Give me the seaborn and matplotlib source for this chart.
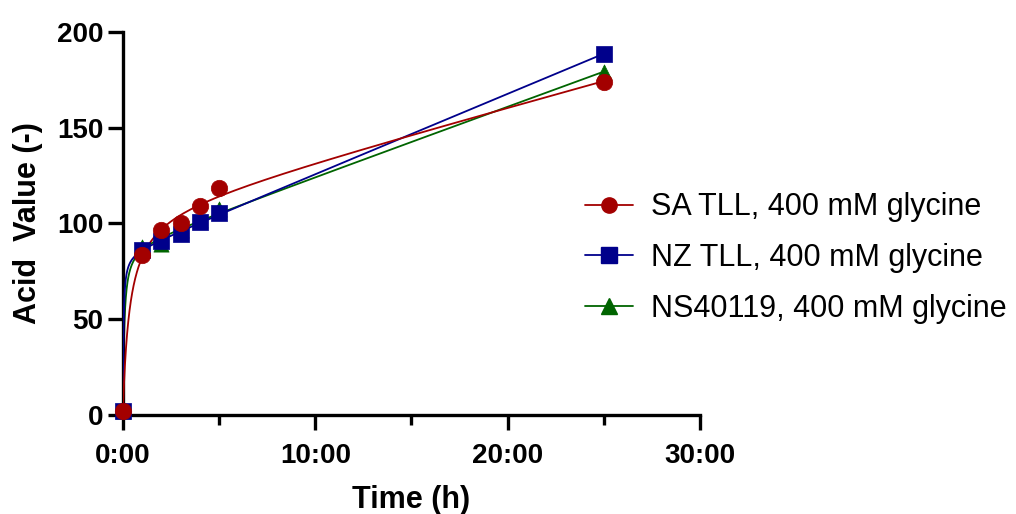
import numpy as np
import pandas as pd
import matplotlib
matplotlib.use("Agg")
import matplotlib.pyplot as plt
import seaborn as sns
from matplotlib.lines import Line2D

# ---- data ----
time_h = [0, 1, 2, 3, 4, 5, 25]
sa_tll = [2, 83.5, 96.5, 100, 109, 118.5, 174]
nz_tll = [2, 86, 91, 94.5, 100.5, 105.5, 188.5]
ns40119 = [2, 87.5, 89, 96.5, 101.5, 107.5, 179]
series_names = ["SA TLL, 400 mM glycine", "NZ TLL, 400 mM glycine", "NS40119, 400 mM glycine"]
series_values = [sa_tll, nz_tll, ns40119]
x_ticks = [0, 10, 20, 30]
x_tick_labels = ["0:00", "10:00", "20:00", "30:00"]
y_ticks = [0, 50, 100, 150, 200]

colors = ["#A30000", "#00008B", "#006400"]
markers = ["o", "s", "^"]
marker_sizes = [140, 140, 120]
layer = [7, 6, 5]

sns.set_theme(style="white")
plt.rcParams["font.family"] = ["Liberation Sans", "DejaVu Sans"]
plt.rcParams["text.color"] = "black"
plt.rcParams["axes.labelcolor"] = "black"

fig = plt.figure(figsize=(10.16, 5.14), dpi=100)
ax = fig.add_axes([0.121, 0.193, 0.568, 0.745])


def fit_curve(t, y):
    t = np.asarray(t, float)
    y = np.asarray(y, float)
    best = None
    for k in np.linspace(0.02, 3, 300):
        A = np.column_stack([np.ones_like(t), t / (k + t), t])
        coef, res, *_ = np.linalg.lstsq(A, y, rcond=None)
        err = np.sum((A @ coef - y) ** 2)
        if best is None or err < best[0]:
            best = (err, k, coef)
    _, k, coef = best
    tt = np.concatenate([np.linspace(0, 1, 200), np.linspace(1, 25, 200)])
    yy = coef[0] + coef[1] * tt / (k + tt) + coef[2] * tt
    return tt, yy

rows = []
curve_rows = []
for name, vals in zip(series_names, series_values):
    for t, v in zip(time_h, vals):
        rows.append({"Time": t, "Value": v, "Series": name})
    tt, yy = fit_curve(time_h, vals)
    for t, v in zip(tt, yy):
        curve_rows.append({"Time": t, "Value": v, "Series": name})
df = pd.DataFrame(rows)
cdf = pd.DataFrame(curve_rows)
palette = dict(zip(series_names, colors))

for name, m, ms, z in list(zip(series_names, markers, marker_sizes, layer))[::-1]:
    csub = cdf[cdf["Series"] == name]
    sns.lineplot(data=csub, x="Time", y="Value", color=palette[name], ax=ax,
                 legend=False, linewidth=1.3, sort=False, estimator=None, zorder=z - 3)
    sub = df[df["Series"] == name]
    sns.scatterplot(data=sub, x="Time", y="Value", color=palette[name], marker=m,
                    s=ms, edgecolor=palette[name], linewidth=0.5, ax=ax,
                    legend=False, clip_on=False, zorder=z)

ax.set_xlim(0, 30)
ax.set_ylim(0, 200)
ax.set_xticks(x_ticks)
ax.set_xticklabels(x_tick_labels)
ax.set_xticks([5, 15, 25], minor=True)
ax.set_yticks(y_ticks)

for s in ["top", "right"]:
    ax.spines[s].set_visible(False)
for s in ["left", "bottom"]:
    ax.spines[s].set_linewidth(2.4)
    ax.spines[s].set_color("black")
ax.tick_params(axis="both", which="major", direction="out", length=11, width=2.4,
               colors="black", labelsize=20, bottom=True, left=True)
ax.tick_params(axis="x", which="minor", direction="out", length=7, width=2.4,
               colors="black", bottom=True)
ax.tick_params(axis="x", which="major", pad=9)
ax.tick_params(axis="y", which="major", pad=3)
for lab in ax.get_xticklabels() + ax.get_yticklabels():
    lab.set_fontweight("bold")

ax.set_xlabel("Time (h)", fontsize=22, fontweight="bold", labelpad=12)
ax.set_ylabel("Acid  Value (-)", fontsize=22, fontweight="bold", labelpad=10)
ax.grid(False)

handles = [Line2D([0], [0], color=c, marker=m, markersize=11, linewidth=1.3)
           for c, m in zip(colors, markers)]
fig.legend(handles, series_names, loc="center left", bbox_to_anchor=(0.549, 0.498),
           frameon=False, fontsize=22, handlelength=1.55, handletextpad=0.6,
           labelspacing=0.68)

fig.savefig("out.png", dpi=100)
